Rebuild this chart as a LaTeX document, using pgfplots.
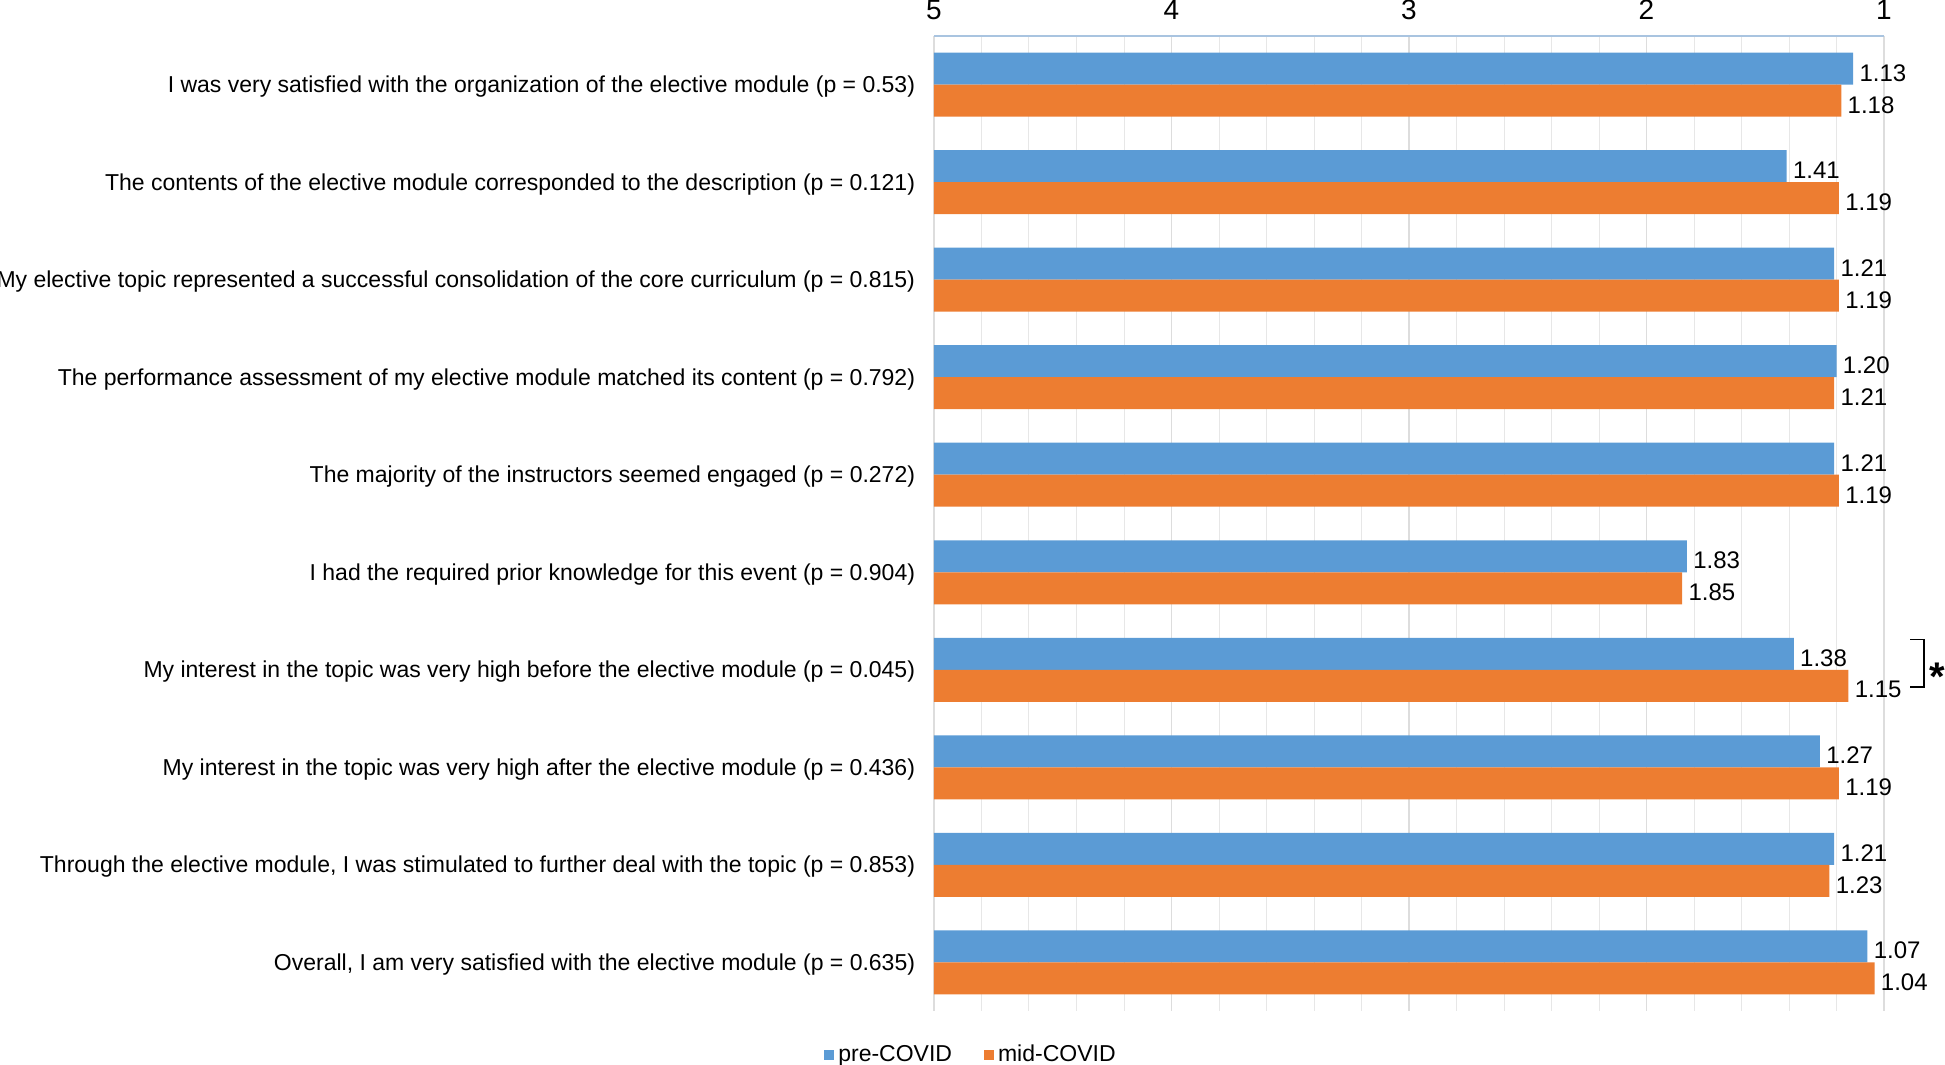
\documentclass[border=0pt]{standalone}
\usepackage{pgfplots}
\usepackage{pgfplotstable}
\usepackage{fontspec}
\pgfplotsset{compat=1.18}
\setmainfont{Liberation Sans}

\definecolor{preblue}{HTML}{5B9BD5}
\definecolor{midorange}{HTML}{ED7D31}
\definecolor{gridgray}{HTML}{DDDDDD}
\definecolor{topline}{HTML}{A9C4E0}

% ratings (1 = best, 5 = worst)
\pgfplotstableread{
row pre  mid
0   1.13 1.18
1   1.41 1.19
2   1.21 1.19
3   1.20 1.21
4   1.21 1.19
5   1.83 1.85
6   1.38 1.15
7   1.27 1.19
8   1.21 1.23
9   1.07 1.04
}\ratings

\begin{document}
\begin{tikzpicture}
\useasboundingbox (0,0) rectangle (972.5pt,532.5pt);
\begin{axis}[
    at={(467pt,27pt)}, anchor=south west,
    scale only axis, width=475pt, height=487.5pt,
    xbar, bar width=16pt,
    /pgf/number format/assume math mode=true,
    font=\fontsize{11.5}{14}\selectfont,
    xmin=0, xmax=4,
    ymin=-0.5, ymax=9.5, y dir=reverse,
    axis x line*=top, axis y line*=left,
    x axis line style={topline, line width=0.8pt},
    y axis line style={draw=none},
    xtick={0,1,2,3,4}, xticklabels={5,4,3,2,1},
    minor x tick num=4,
    xmajorgrids, xminorgrids,
    major grid style={gridgray, line width=0.6pt},
    minor grid style={gridgray!70, line width=0.5pt},
    major x tick style={draw=none}, minor x tick style={draw=none},
    ytick style={draw=none},
    xticklabel style={font=\fontsize{14}{16}\selectfont, inner sep=0pt, anchor=base, yshift=8pt},
    ytick={0,...,9},
    yticklabels={
      I was very satisfied with the organization of the elective module (p = 0.53),
      The contents of the elective module corresponded to the description (p = 0.121),
      My elective topic represented a successful consolidation of the core curriculum (p = 0.815),
      The performance assessment of my elective module matched its content (p = 0.792),
      The majority of the instructors seemed engaged (p = 0.272),
      I had the required prior knowledge for this event (p = 0.904),
      My interest in the topic was very high before the elective module (p = 0.045),
      My interest in the topic was very high after the elective module (p = 0.436),
      {Through the elective module, I was stimulated to further deal with the topic (p = 0.853)},
      {Overall, I am very satisfied with the elective module (p = 0.635)}},
    yticklabel style={inner sep=0pt, anchor=east, xshift=-5pt, yshift=-1pt},
    point meta=explicit,
    nodes near coords={\pgfmathprintnumber[fixed,fixed zerofill,precision=2]{\pgfplotspointmeta}},
    every node near coord/.append style={anchor=west, inner sep=0pt, xshift=3pt, yshift=-2pt, black,
      font=\fontsize{12}{14}\selectfont},
    legend style={at={(axis description cs:0.04,-0.045)}, anchor=center,
      draw=none, legend columns=2, font=\fontsize{11.5}{14}\selectfont,
      /tikz/every even column/.append style={column sep=14pt}},
    legend image code/.code={\fill[#1] (0pt,-2.5pt) rectangle (5pt,2.5pt);},
    clip=false,
]
\addplot[fill=preblue, draw=none, bar shift=8pt]
    table[y=row, x expr=5-\thisrow{pre}, meta=pre] {\ratings};
\addplot[fill=midorange, draw=none, bar shift=-8pt]
    table[y=row, x expr=5-\thisrow{mid}, meta=mid] {\ratings};
\legend{pre-COVID, mid-COVID}
% significance bracket for row 6
\draw[black, line width=0.9pt] (axis cs:4.11,5.69) -- (axis cs:4.17,5.69)
    -- (axis cs:4.17,6.18) -- (axis cs:4.11,6.18);
\node[font=\fontsize{20}{20}\bfseries\selectfont, anchor=west, inner sep=0pt]
    at (axis cs:4.19,6.07) {*};
\end{axis}
\end{tikzpicture}
\end{document}
